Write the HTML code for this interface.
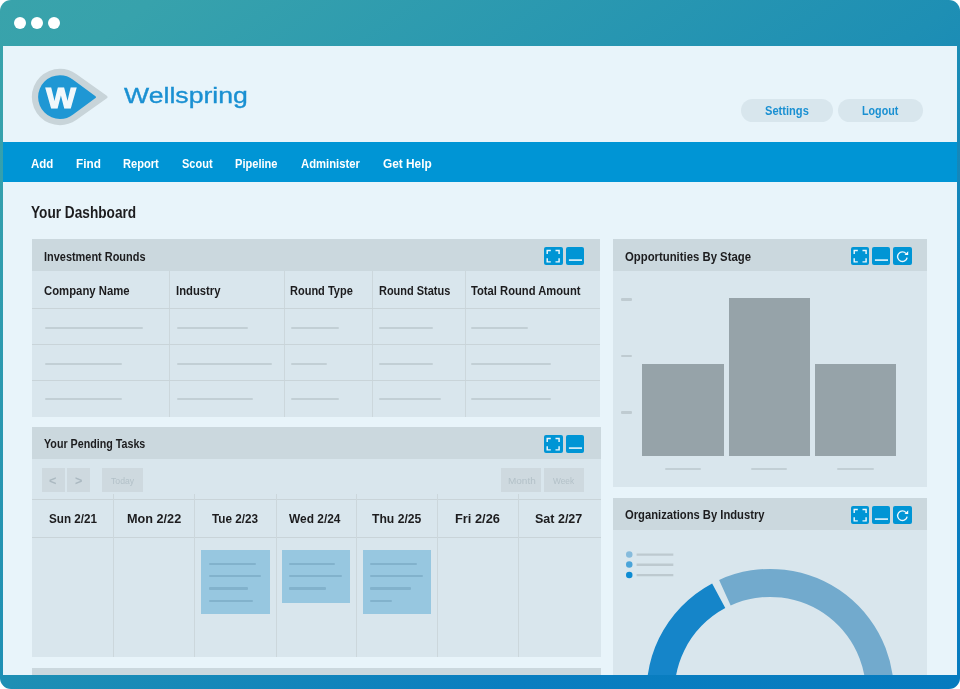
<!DOCTYPE html>
<html><head><meta charset="utf-8"><title>Wellspring</title>
<style>
*{box-sizing:border-box;margin:0;padding:0}
html,body{width:960px;height:689px;overflow:hidden;background:#fff}
body{font-family:"Liberation Sans",sans-serif;font-weight:bold;color:#1c1c1e;position:relative}
.frame{position:absolute;left:0;top:0;width:960px;height:689px;border-radius:11px;background:linear-gradient(to bottom right,#39a3ab 0%,#37a2ac 8%,#1e8fb4 50%,#0a7ec0 76%,#067bbf 100%)}
.dot{position:absolute;width:12px;height:12px;border-radius:50%;background:#fff;top:17px}
.content{position:absolute;left:3px;top:45.500px;width:954px;height:629px;background:#e8f4fa;overflow:hidden}
.pg{position:absolute;left:-3px;top:-45.500px;width:960px;height:689px}
.pg div,.pg svg{position:absolute}
.t{white-space:nowrap;line-height:1;transform-origin:0 0}
.nav{left:3px;top:142.300px;width:954px;height:40.200px;background:#0095d5}
.pill{height:23px;border-radius:12px;background:#d8e6ed}
.p{background:#d9e6ed}
.h{background:#cbd8de}
.ln{height:2.200px;background:#c2cfd5;border-radius:1px}
.vl{width:1px;background:#ccd7dc}
.hl{height:1px;background:#c9d4d9}
.ic{width:18.400px;height:18.400px;border-radius:2px;background:#0095d5}
.ic svg{left:0;top:0;width:100%;height:100%}
.btn{background:#ced9df;height:23.500px;top:468.250px}
.card{background:#97c7e0}
.cl{height:2.200px;background:#82b2cc;border-radius:1px}
.bar{background:#96a3a9}
</style></head><body>
<div class="frame">
 <div class="dot" style="left:14.200px"></div><div class="dot" style="left:31px"></div><div class="dot" style="left:47.700px"></div>
</div>
<div class="content"><div class="pg">
 <!-- logo -->
 <svg style="left:28px;top:65px" width="84" height="64" viewBox="28 65 84 64">
  <path d="M60 68.800 A28.200 28.200 0 0 0 60 125.200 C66 125.200 71 123.500 76.600 119.800 L106.500 98.600 Q108.600 97 106.500 95.400 L76.600 74.200 C71 70.500 66 68.800 60 68.800Z" fill="#c8d4d9"/>
  <path d="M60 75.200 A21.900 21.900 0 0 0 60 119 C65 119 69 117.600 73.100 114.500 L95.500 98 Q96.800 97.100 95.500 96.200 L73.100 79.700 C69 76.600 65 75.200 60 75.200Z" fill="#1f97d4"/>
  <text transform="translate(61 108.400) scale(1.070 1)" x="0" y="0" text-anchor="middle" font-family="Liberation Sans, sans-serif" font-weight="bold" font-size="29.600" fill="#f2f8fb" stroke="#f2f8fb" stroke-width="1.200" stroke-linejoin="miter">W</text>
 </svg>
 <div class="pill" style="left:741px;top:98.600px;width:91.800px"></div>
 <div class="pill" style="left:837.600px;top:98.600px;width:85.400px"></div>
 <div class="nav"></div>

 <!-- Panel 1 -->
 <div class="p" style="left:31.750px;top:239.250px;width:568.500px;height:177.250px"></div>
 <div class="h" style="left:31.750px;top:239.250px;width:568.500px;height:31.750px"></div>
 <div class="ic" style="left:544.250px;top:246.900px"><svg viewBox="0 0 18.4 18.4"><path d="M3.200 7.100V3.500h3.600M11.500 3.500h3.600v3.600M15.100 11.300v3.600h-3.600M6.800 14.900H3.200v-3.600" fill="none" stroke="#fff" stroke-opacity=".92" stroke-width="1.450"/></svg></div> <div class="ic" style="left:565.750px;top:246.900px"><svg viewBox="0 0 18.4 18.4"><path d="M2.900 13.100h13.100" fill="none" stroke="#fff" stroke-opacity=".95" stroke-width="1.500"/></svg></div>
 <div class="vl" style="left:169px;top:271px;height:145.500px"></div>
 <div class="vl" style="left:284.250px;top:271px;height:145.500px"></div>
 <div class="vl" style="left:372.250px;top:271px;height:145.500px"></div>
 <div class="vl" style="left:464.750px;top:271px;height:145.500px"></div>
 <div class="hl" style="left:31.750px;top:308.300px;width:568.500px"></div>
 <div class="hl" style="left:31.750px;top:344.200px;width:568.500px"></div>
 <div class="hl" style="left:31.750px;top:380.300px;width:568.500px"></div>
 <div class="ln" style="left:45px;top:326.70px;width:97.80px"></div>
<div class="ln" style="left:45px;top:362.65px;width:76.50px"></div>
<div class="ln" style="left:45px;top:398.00px;width:76.50px"></div>
<div class="ln" style="left:177.2px;top:326.70px;width:71.20px"></div>
<div class="ln" style="left:177.2px;top:362.65px;width:95.30px"></div>
<div class="ln" style="left:177.2px;top:398.00px;width:75.80px"></div>
<div class="ln" style="left:291.25px;top:326.70px;width:48.15px"></div>
<div class="ln" style="left:291.25px;top:362.65px;width:35.65px"></div>
<div class="ln" style="left:291.25px;top:398.00px;width:48.15px"></div>
<div class="ln" style="left:379.4px;top:326.70px;width:53.60px"></div>
<div class="ln" style="left:379.4px;top:362.65px;width:53.60px"></div>
<div class="ln" style="left:379.4px;top:398.00px;width:61.85px"></div>
<div class="ln" style="left:471px;top:326.70px;width:56.80px"></div>
<div class="ln" style="left:471px;top:362.65px;width:79.60px"></div>
<div class="ln" style="left:471px;top:398.00px;width:79.60px"></div>


 <!-- Panel 2 -->
 <div class="p" style="left:31.750px;top:427px;width:568.750px;height:230.300px"></div>
 <div class="h" style="left:31.750px;top:427px;width:568.750px;height:32.250px"></div>
 <div class="ic" style="left:544.250px;top:435px"><svg viewBox="0 0 18.4 18.4"><path d="M3.200 7.100V3.500h3.600M11.500 3.500h3.600v3.600M15.100 11.300v3.600h-3.600M6.800 14.900H3.200v-3.600" fill="none" stroke="#fff" stroke-opacity=".92" stroke-width="1.450"/></svg></div> <div class="ic" style="left:565.750px;top:435px"><svg viewBox="0 0 18.4 18.4"><path d="M2.900 13.100h13.100" fill="none" stroke="#fff" stroke-opacity=".95" stroke-width="1.500"/></svg></div>
 <div class="btn" style="left:42px;width:23px"></div>
 <div class="btn" style="left:67px;width:23px"></div>
 <div class="btn" style="left:102px;width:40.500px"></div>
 <div class="btn" style="left:500.750px;width:40.500px"></div>
 <div class="btn" style="left:543.750px;width:40.500px"></div>
 <div class="hl" style="left:31.750px;top:499.200px;width:568.750px"></div>
 <div class="hl" style="left:31.750px;top:536.500px;width:568.750px"></div>
 <div class="vl" style="left:113.25px;top:494px;height:163px"></div>
<div class="vl" style="left:194.25px;top:494px;height:163px"></div>
<div class="vl" style="left:275.5px;top:494px;height:163px"></div>
<div class="vl" style="left:356.25px;top:494px;height:163px"></div>
<div class="vl" style="left:437.25px;top:494px;height:163px"></div>
<div class="vl" style="left:518.1px;top:494px;height:163px"></div>

 <div class="card" style="left:201.25px;top:550px;width:68.25px;height:63.60px"></div>
<div class="cl" style="left:209px;top:562.70px;width:47.00px"></div>
<div class="cl" style="left:209px;top:574.90px;width:52.00px"></div>
<div class="cl" style="left:209px;top:587.40px;width:38.50px"></div>
<div class="cl" style="left:209px;top:599.90px;width:44.00px"></div>
<div class="card" style="left:281.75px;top:550px;width:68.25px;height:52.50px"></div>
<div class="cl" style="left:289.25px;top:562.70px;width:45.25px"></div>
<div class="cl" style="left:289.25px;top:574.90px;width:52.25px"></div>
<div class="cl" style="left:289.25px;top:587.40px;width:36.75px"></div>
<div class="card" style="left:362.75px;top:550px;width:68.25px;height:63.60px"></div>
<div class="cl" style="left:370px;top:562.70px;width:46.75px"></div>
<div class="cl" style="left:370px;top:574.90px;width:52.50px"></div>
<div class="cl" style="left:370px;top:587.40px;width:40.75px"></div>
<div class="cl" style="left:370px;top:599.90px;width:21.70px"></div>


 <!-- Panel 3 (partial) -->
 <div class="h" style="left:31.750px;top:667.500px;width:568.750px;height:20px"></div>

 <!-- R1 -->
 <div class="p" style="left:613px;top:239.250px;width:314.200px;height:247.750px"></div>
 <div class="h" style="left:613px;top:239.250px;width:314.200px;height:31.750px"></div>
 <div class="ic" style="left:850.500px;top:246.900px"><svg viewBox="0 0 18.4 18.4"><path d="M3.200 7.100V3.500h3.600M11.500 3.500h3.600v3.600M15.100 11.300v3.600h-3.600M6.800 14.900H3.200v-3.600" fill="none" stroke="#fff" stroke-opacity=".92" stroke-width="1.450"/></svg></div> <div class="ic" style="left:871.900px;top:246.900px"><svg viewBox="0 0 18.4 18.4"><path d="M2.900 13.100h13.100" fill="none" stroke="#fff" stroke-opacity=".95" stroke-width="1.500"/></svg></div> <div class="ic" style="left:893.400px;top:246.900px"><svg viewBox="0 0 18.4 18.4"><path d="M14.130 10.530A4.800 4.800 0 1 1 13.080 6.610" fill="none" stroke="#fff" stroke-opacity=".92" stroke-width="1.400"/><path d="M15.200 4.300v3.700h-3.700z" fill="#fff"/></svg></div>
 <div class="ln" style="left:621.200px;top:298.100px;width:11.300px;height:2.600px;background:#bfcbd1"></div>
 <div class="ln" style="left:621.200px;top:354.700px;width:11.300px;height:2.600px;background:#bfcbd1"></div>
 <div class="ln" style="left:621.200px;top:411.300px;width:11.300px;height:2.600px;background:#bfcbd1"></div>
 <div class="bar" style="left:642px;top:364px;width:81.800px;height:92.400px"></div>
 <div class="bar" style="left:728.700px;top:298.300px;width:81.500px;height:158.100px"></div>
 <div class="bar" style="left:814.700px;top:364px;width:81.500px;height:92.400px"></div>
 <div class="ln" style="left:665px;top:468.100px;width:36px"></div>
 <div class="ln" style="left:750.600px;top:468.100px;width:36.400px"></div>
 <div class="ln" style="left:837px;top:468.100px;width:36.600px"></div>

 <!-- R2 -->
 <div class="p" style="left:613px;top:497.500px;width:314.200px;height:190px"></div>
 <div class="h" style="left:613px;top:497.500px;width:314.200px;height:32px"></div>
 <div class="ic" style="left:850.500px;top:505.500px"><svg viewBox="0 0 18.4 18.4"><path d="M3.200 7.100V3.500h3.600M11.500 3.500h3.600v3.600M15.100 11.300v3.600h-3.600M6.800 14.900H3.200v-3.600" fill="none" stroke="#fff" stroke-opacity=".92" stroke-width="1.450"/></svg></div> <div class="ic" style="left:871.900px;top:505.500px"><svg viewBox="0 0 18.4 18.4"><path d="M2.900 13.100h13.100" fill="none" stroke="#fff" stroke-opacity=".95" stroke-width="1.500"/></svg></div> <div class="ic" style="left:893.400px;top:505.500px"><svg viewBox="0 0 18.4 18.4"><path d="M14.130 10.530A4.800 4.800 0 1 1 13.080 6.610" fill="none" stroke="#fff" stroke-opacity=".92" stroke-width="1.400"/><path d="M15.200 4.300v3.700h-3.700z" fill="#fff"/></svg></div>
 <svg style="left:613px;top:530px" width="315" height="160" viewBox="613 530 315 160">
<circle cx="629.250" cy="554.400" r="3.250" fill="#86bbdc"/><circle cx="629.250" cy="564.600" r="3.250" fill="#4aa4d9"/><circle cx="629.250" cy="575" r="3.250" fill="#0d8cd3"/>
  <path d="M636.600 554.600H673.300M636.600 564.800H673.300M636.600 575.100H673.300" stroke="#bdc9cf" stroke-width="2.400" fill="none"/>
  <path d="M719.10 579.95A123.7 123.7 0 0 1 892.02 714.08L864.45 709.22A95.7 95.7 0 0 0 730.67 605.45Z" fill="#72aacd"/><path d="M712.13 583.38A123.7 123.7 0 0 0 648.38 714.08L675.95 709.22A95.7 95.7 0 0 1 725.27 608.10Z" fill="#1585c9"/>
 </svg>

<div class="t" style="left:124.39px;top:85.15px;font-size:21.79px;transform:scaleX(1.2231);font-weight:normal;color:#1a90d2;-webkit-text-stroke:0.35px #1a90d2">Wellspring</div>
<div class="t" style="left:31.02px;top:157.60px;font-size:12.29px;transform:scaleX(0.9341);color:#fff">Add</div>
<div class="t" style="left:75.53px;top:157.60px;font-size:12.29px;transform:scaleX(0.9588);color:#fff">Find</div>
<div class="t" style="left:122.57px;top:157.60px;font-size:12.29px;transform:scaleX(0.9032);color:#fff">Report</div>
<div class="t" style="left:181.55px;top:157.60px;font-size:12.29px;transform:scaleX(0.8955);color:#fff">Scout</div>
<div class="t" style="left:235.32px;top:157.60px;font-size:12.29px;transform:scaleX(0.9022);color:#fff">Pipeline</div>
<div class="t" style="left:300.52px;top:157.60px;font-size:12.29px;transform:scaleX(0.9176);color:#fff">Administer</div>
<div class="t" style="left:382.52px;top:157.60px;font-size:12.29px;transform:scaleX(0.9646);color:#fff">Get Help</div>
<div class="t" style="left:30.83px;top:203.61px;font-size:16.41px;transform:scaleX(0.8317);">Your Dashboard</div>
<div class="t" style="left:43.58px;top:251.16px;font-size:12.22px;transform:scaleX(0.8951);">Investment Rounds</div>
<div class="t" style="left:43.53px;top:437.91px;font-size:12.22px;transform:scaleX(0.8761);">Your Pending Tasks</div>
<div class="t" style="left:625.04px;top:251.16px;font-size:12.22px;transform:scaleX(0.9276);">Opportunities By Stage</div>
<div class="t" style="left:625.04px;top:509.41px;font-size:12.22px;transform:scaleX(0.9175);">Organizations By Industry</div>
<div class="t" style="left:43.55px;top:284.61px;font-size:12.57px;transform:scaleX(0.9016);">Company Name</div>
<div class="t" style="left:175.58px;top:284.61px;font-size:12.57px;transform:scaleX(0.8974);">Industry</div>
<div class="t" style="left:290.09px;top:284.61px;font-size:12.57px;transform:scaleX(0.8759);">Round Type</div>
<div class="t" style="left:378.60px;top:284.61px;font-size:12.57px;transform:scaleX(0.8727);">Round Status</div>
<div class="t" style="left:471.03px;top:284.61px;font-size:12.57px;transform:scaleX(0.8918);">Total Round Amount</div>
<div class="t" style="left:48.80px;top:513.06px;font-size:12.92px;transform:scaleX(0.9043);">Sun 2/21</div>
<div class="t" style="left:126.76px;top:513.06px;font-size:12.92px;transform:scaleX(0.9815);">Mon 2/22</div>
<div class="t" style="left:211.77px;top:513.06px;font-size:12.92px;transform:scaleX(0.9100);">Tue 2/23</div>
<div class="t" style="left:289.25px;top:513.06px;font-size:12.92px;transform:scaleX(0.9238);">Wed 2/24</div>
<div class="t" style="left:372.26px;top:513.06px;font-size:12.92px;transform:scaleX(0.9420);">Thu 2/25</div>
<div class="t" style="left:455.00px;top:513.06px;font-size:12.92px;transform:scaleX(0.9943);">Fri 2/26</div>
<div class="t" style="left:535.27px;top:513.06px;font-size:12.92px;transform:scaleX(0.9686);">Sat 2/27</div>
<div class="t" style="left:111.02px;top:475.86px;font-size:9.5px;transform:scaleX(0.9100);font-weight:normal;color:#b3c1c8">Today</div>
<div class="t" style="left:507.96px;top:475.86px;font-size:9.5px;transform:scaleX(1.0500);font-weight:normal;color:#b3c1c8">Month</div>
<div class="t" style="left:552.50px;top:475.86px;font-size:9.5px;transform:scaleX(0.8750);font-weight:normal;color:#b3c1c8">Week</div>
<div class="t" style="left:49.49px;top:474.80px;font-size:12.29px;transform:scaleX(1.0240);color:#abb9c1">&lt;</div>
<div class="t" style="left:74.69px;top:474.80px;font-size:12.29px;transform:scaleX(1.0240);color:#abb9c1">&gt;</div>
<div class="t" style="left:764.96px;top:104.96px;font-size:12.57px;transform:scaleX(0.8845);color:#1a90d2">Settings</div>
<div class="t" style="left:861.76px;top:104.96px;font-size:12.57px;transform:scaleX(0.8527);color:#1a90d2">Logout</div>

</div></div>
</body></html>
